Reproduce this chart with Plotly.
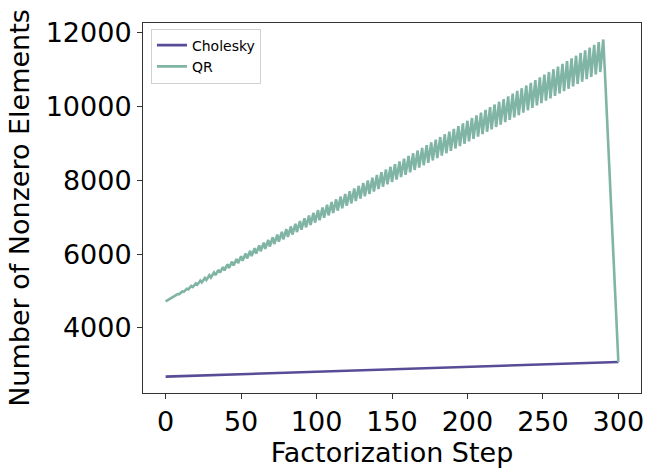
import plotly.graph_objects as go

# Cholesky: nonzeros per factorization step (read at a few steps; straight line)
chol_steps = [0, 50, 100, 150, 200, 250, 300]
chol_nnz = [2680, 2746, 2812, 2878, 2944, 3010, 3077]

# QR: sawtooth with period of 3 steps, read per tooth (low, mid, peak)
qr_low = [4720, 4785, 4850, 4914, 4979, 5044, 5109, 5174, 5238, 5303,
          5368, 5433, 5498, 5562, 5627, 5692, 5757, 5822, 5886, 5951,
          6016, 6081, 6146, 6210, 6275, 6340, 6405, 6470, 6534, 6599,
          6664, 6729, 6794, 6858, 6923, 6988, 7053, 7118, 7182, 7247,
          7312, 7377, 7442, 7506, 7571, 7636, 7701, 7766, 7830, 7895,
          7960, 8025, 8090, 8154, 8219, 8284, 8349, 8414, 8478, 8543,
          8608, 8673, 8738, 8802, 8867, 8932, 8997, 9062, 9126, 9191,
          9256, 9321, 9386, 9450, 9515, 9580, 9645, 9710, 9774, 9839,
          9904, 9969, 10034, 10098, 10163, 10228, 10293, 10358, 10422, 10487,
          10552, 10617, 10682, 10746, 10811, 10876, 10941]
qr_mid = [4743, 4812, 4881, 4950, 5020, 5089, 5158, 5227, 5296, 5365,
          5435, 5504, 5573, 5642, 5711, 5780, 5849, 5919, 5988, 6057,
          6126, 6195, 6264, 6334, 6403, 6472, 6541, 6610, 6679, 6748,
          6818, 6887, 6956, 7025, 7094, 7163, 7232, 7302, 7371, 7440,
          7509, 7578, 7647, 7717, 7786, 7855, 7924, 7993, 8062, 8131,
          8201, 8270, 8339, 8408, 8477, 8546, 8615, 8685, 8754, 8823,
          8892, 8961, 9030, 9100, 9169, 9238, 9307, 9376, 9445, 9514,
          9584, 9653, 9722, 9791, 9860, 9929, 9998, 10068, 10137, 10206,
          10275, 10344, 10413, 10483, 10552, 10621, 10690, 10759, 10828, 10897,
          10967, 11036, 11105, 11174, 11243, 11312, 11381]
qr_peak = [4769, 4843, 4916, 4990, 5063, 5137, 5210, 5284, 5357, 5431,
           5504, 5578, 5651, 5725, 5798, 5872, 5945, 6019, 6092, 6166,
           6239, 6313, 6386, 6460, 6533, 6607, 6680, 6754, 6827, 6901,
           6974, 7048, 7121, 7195, 7268, 7342, 7415, 7489, 7562, 7636,
           7709, 7783, 7856, 7930, 8003, 8077, 8150, 8224, 8297, 8371,
           8444, 8518, 8591, 8665, 8738, 8812, 8885, 8959, 9032, 9106,
           9179, 9253, 9326, 9400, 9473, 9547, 9620, 9694, 9767, 9841,
           9914, 9988, 10061, 10135, 10208, 10282, 10355, 10429, 10502, 10576,
           10649, 10723, 10796, 10870, 10943, 11017, 11090, 11164, 11237, 11311,
           11384, 11458, 11531, 11605, 11678, 11752, 11825]
qr_tail_steps = [291, 300]
qr_tail_nnz = [11006, 3077]

x_ticks = [0, 50, 100, 150, 200, 250, 300]
y_ticks = [4000, 6000, 8000, 10000, 12000]
y_tick_labels = ["4000", "6000", "8000", "10000", "12000"]

# build QR step series: each tooth covers three consecutive steps
qr_steps, qr_nnz = [], []
for j, (lo, mi, pk) in enumerate(zip(qr_low, qr_mid, qr_peak)):
    qr_steps += [3 * j, 3 * j + 1, 3 * j + 2]
    qr_nnz += [lo, mi, pk]
qr_steps += qr_tail_steps
qr_nnz += qr_tail_nnz

CHOL_COLOR = "#574c96"
QR_COLOR = "#80b4a5"

fig = go.Figure()
fig.add_trace(go.Scatter(x=chol_steps, y=chol_nnz, mode="lines", name="Cholesky",
                         line=dict(color=CHOL_COLOR, width=2.6)))
fig.add_trace(go.Scatter(x=qr_steps, y=qr_nnz, mode="lines", name="QR",
                         line=dict(color=QR_COLOR, width=2.6)))

font_family = "DejaVu Sans"
axis_common = dict(showgrid=False, zeroline=False, showline=True, linecolor="#333333",
                   linewidth=1, mirror=True, ticks="outside", ticklen=5, tickwidth=1,
                   tickcolor="#333333", automargin=False,
                   tickfont=dict(size=27, color="black", family=font_family))

fig.update_layout(
    width=663, height=468,
    margin=dict(l=143, r=22, t=23, b=75),
    paper_bgcolor="white", plot_bgcolor="white",
    font=dict(family=font_family, color="black"),
    xaxis=dict(range=[-15, 315], tickvals=x_ticks,
               title=dict(text="Factorization Step", font=dict(size=27), standoff=2),
               **axis_common),
    yaxis=dict(range=[2236, 12271], tickvals=y_ticks, ticktext=y_tick_labels,
               title=dict(text="Number of Nonzero Elements", font=dict(size=27), standoff=8),
               **axis_common),
    legend=dict(x=0.016, y=0.985, xanchor="left", yanchor="top",
                bgcolor="rgba(255,255,255,0.8)", bordercolor="#d0d0d0", borderwidth=1,
                font=dict(size=14, family=font_family), itemwidth=30,
                tracegroupgap=0),
    showlegend=True,
)

fig.write_html("out.html")
